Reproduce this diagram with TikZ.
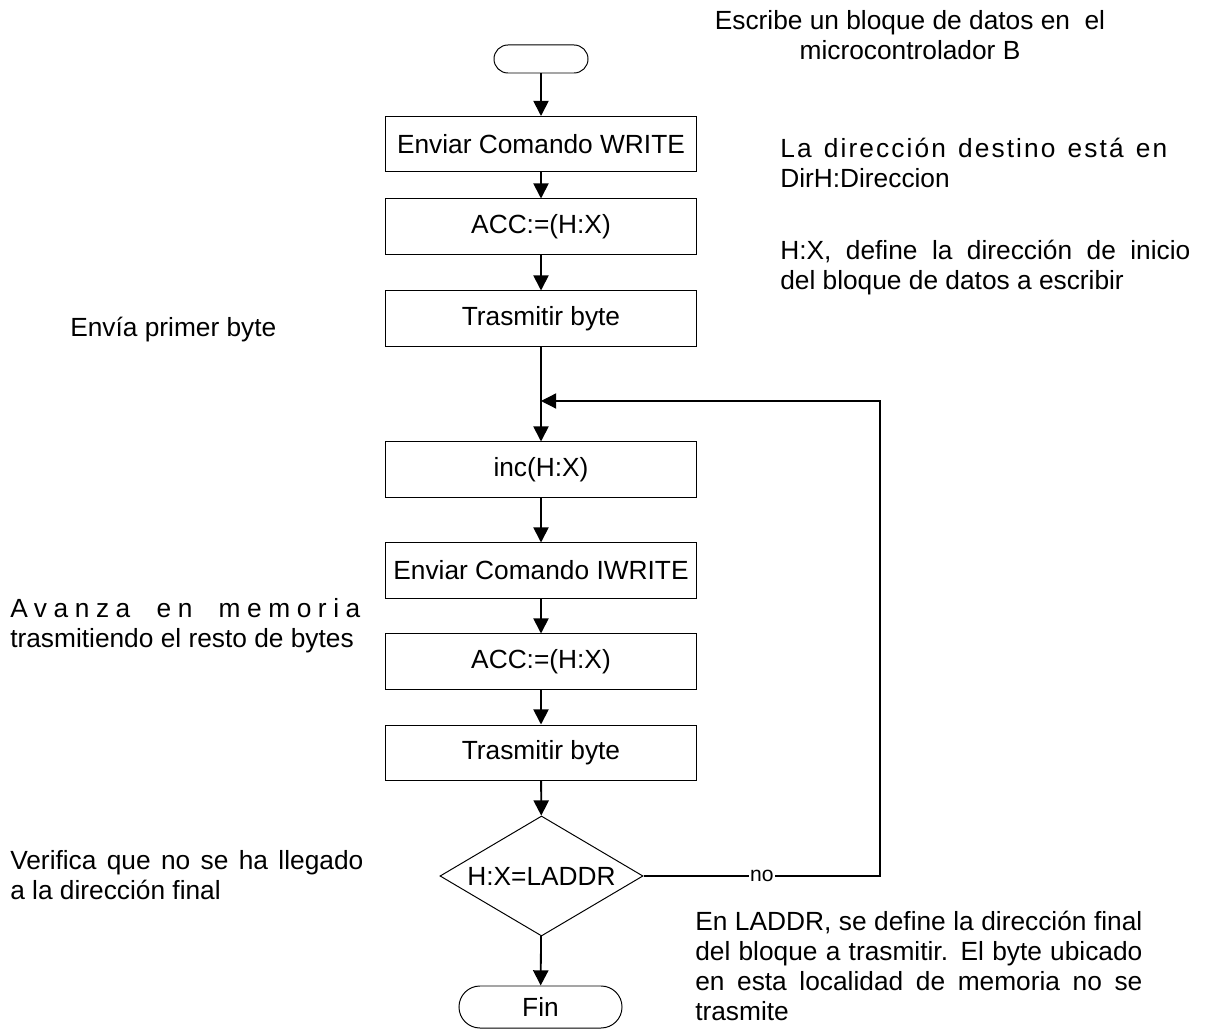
\documentclass[tikz,border=0pt]{standalone}
\usepackage{fontspec}
\setmainfont{Liberation Sans}
\usetikzlibrary{shapes.geometric,arrows.meta}

\newcommand{\txt}{\fontsize{18.7}{21.3}\selectfont}
\tikzset{
  paso/.style={draw, line width=0.7pt, minimum width=7.775cm, minimum height=1.375cm, inner sep=0pt, font=\txt},
  term/.style={draw, line width=0.7pt, rounded corners=#1, inner sep=0pt, font=\txt},
  decide/.style={draw, diamond, line width=0.7pt, aspect=1.69, inner sep=0pt, minimum width=5.075cm, minimum height=3cm, font=\txt},
  flecha/.style={line width=1.3pt, -{Triangle[length=0.38cm,width=0.38cm]}},
  nota/.style={inner sep=0pt, align=left, anchor=north west, font=\txt},
}

\begin{document}
\begin{tikzpicture}[x=0.025cm, y=-0.025cm]
  \useasboundingbox (0,0) rectangle (1205,1029);

  \node[term=0.35cm, minimum width=2.35cm, minimum height=0.7cm] (ini) at (541,59) {};
  \node[paso] (b1) at (541,144) {Enviar Comando WRITE};
  \node[paso] (b2) at (541,226.5) {ACC:=(H:X)};
  \node[paso] (b3) at (541,318.5) {Trasmitir byte};
  \coordinate (junta) at (541,401);
  \node[paso] (b4) at (541,469.5) {inc(H:X)};
  \node[paso] (b5) at (541,570.5) {Enviar Comando IWRITE};
  \node[paso] (b6) at (541,661.5) {ACC:=(H:X)};
  \node[paso] (b7) at (541,752.5) {Trasmitir byte};
  \node[decide] (dec) at (541.5,876) {H:X=LADDR};
  \node[term=0.525cm, minimum width=4.075cm, minimum height=1.05cm] (fin) at (540.5,1007) {Fin};
  \coordinate (esq) at (880,876);

  \draw[flecha] (ini) -- (b1);
  \draw[flecha] (b1) -- (b2);
  \draw[flecha] (b2) -- (b3);
  \draw[flecha] (b3) -- (b4);
  \draw[flecha] (b4) -- (b5);
  \draw[flecha] (b5) -- (b6);
  \draw[flecha] (b6) -- (b7);
  \draw[flecha] (b7) -- (dec);
  \draw[flecha] (dec) -- (fin);
  \draw[flecha, line width=0.9pt] (dec.east) -- node[fill=white, inner sep=1pt, font=\fontsize{15}{17}\selectfont] {no} (esq) |- (junta);

  \node[nota, anchor=north, align=center] (titulo) at (910,8)
    {\strut Escribe un bloque de datos en\ \ el\\microcontrolador B};
  \node[nota] (destino) at (780,136)
    {\strut\makebox[9.675cm][s]{\addfontfeature{LetterSpace=8}La dirección destino está en}\\DirH:Direccion};
  \node[nota] (inicio) at (780,238)
    {\strut\makebox[10.25cm][s]{H:X, define la dirección de inicio}\\del bloque de datos a escribir};
  \node[nota] (primero) at (70,315) {\strut Envía primer byte};
  \node[nota] (avanza) at (10,596)
    {\strut\makebox[8.75cm][s]{\addfontfeature{LetterSpace=25}Avanza en memoria}\\trasmitiendo el resto de bytes};
  \node[nota] (verifica) at (10,848)
    {\strut\makebox[8.825cm][s]{Verifica que no se ha llegado}\\a la dirección final};
  \node[nota] (laddr) at (695,909)
    {\strut\makebox[11.175cm][s]{En LADDR, se define la dirección final}\\
     \makebox[11.175cm][s]{del bloque a trasmitir. El byte ubicado}\\
     \makebox[11.175cm][s]{en esta localidad de memoria no se}\\
     trasmite};
\end{tikzpicture}
\end{document}
